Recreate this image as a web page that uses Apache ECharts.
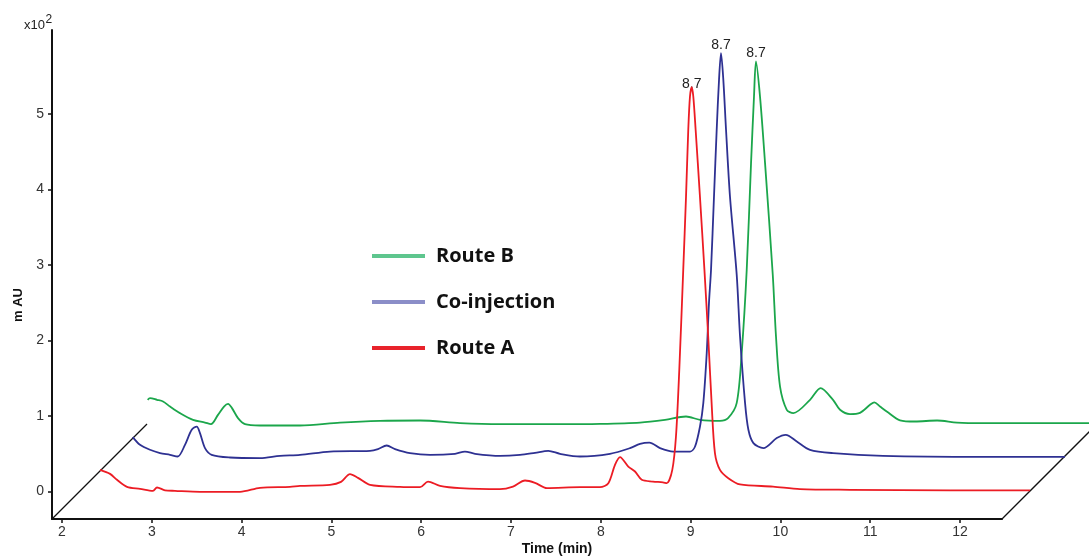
<!DOCTYPE html>
<html><head><meta charset="utf-8">
<script src="https://cdn.jsdelivr.net/npm/echarts@6/dist/echarts.min.js"></script>
<style>html,body{margin:0;padding:0;background:#fff}#c{width:1089px;height:557px}</style>
</head><body><div id="c"></div><script>
// ---- data ----
const xTicks = [2,3,4,5,6,7,8,9,10,11,12];
const yTicks = [0,1,2,3,4,5];
const seriesNames = ['Route A','Co-injection','Route B'];
const legendOrder = ['Route B','Co-injection','Route A'];
const peakLabels = ['8.7','8.7','8.7'];

const routeATime = [2.423,2.535,2.612,2.724,2.869,3.013,3.058,3.147,3.258,3.537,3.982,4.205,4.539,4.650,4.984,5.107,5.207,5.296,5.430,5.764,5.987,6.076,6.209,6.432,6.877,7.022,7.156,7.267,7.401,7.768,7.991,8.084,8.158,8.214,8.306,8.381,8.456,8.581,8.692,8.734,8.796,8.837,8.874,8.918,8.949,8.974,8.993,9.012,9.030,9.056,9.104,9.154,9.196,9.234,9.271,9.327,9.420,9.550,9.918,10.218,10.775,11.889,12.780];
const routeAValue = [0.287,0.234,0.155,0.062,0.036,0.009,0.053,0.016,0.009,-0.004,-0.004,0.049,0.062,0.075,0.089,0.128,0.230,0.181,0.089,0.062,0.058,0.132,0.075,0.045,0.032,0.066,0.146,0.115,0.045,0.058,0.058,0.111,0.354,0.456,0.331,0.265,0.155,0.132,0.122,0.111,0.287,0.728,1.612,2.936,3.907,4.791,5.232,5.356,5.232,4.791,3.907,2.936,2.053,1.171,0.509,0.287,0.177,0.095,0.066,0.032,0.023,0.016,0.016];

const coTime = [2.420,2.501,2.612,2.724,2.835,2.921,3.002,3.077,3.133,3.169,3.225,3.299,3.503,3.837,4.060,4.283,4.617,5.062,5.151,5.248,5.341,5.508,5.731,6.009,6.120,6.232,6.510,6.733,6.900,7.048,7.178,7.401,7.735,7.958,8.069,8.173,8.292,8.440,8.627,8.682,8.737,8.774,8.812,8.837,8.860,8.893,8.923,8.949,8.971,8.997,9.027,9.071,9.146,9.183,9.239,9.276,9.332,9.443,9.592,9.692,9.815,9.962,10.218,10.775,11.889,12.802];
const coValue = [0.277,0.175,0.109,0.065,0.042,0.020,0.175,0.374,0.417,0.330,0.131,0.042,0.007,-0.001,0.029,0.042,0.086,0.095,0.118,0.166,0.118,0.065,0.042,0.056,0.086,0.056,0.029,0.042,0.069,0.095,0.056,0.020,0.056,0.131,0.188,0.205,0.131,0.086,0.086,0.152,0.417,0.727,1.389,2.052,2.493,3.464,4.347,5.009,5.363,5.009,4.347,3.464,2.426,1.609,0.727,0.374,0.197,0.131,0.264,0.307,0.219,0.109,0.065,0.029,0.016,0.016];

const routeBTime = [2.219,2.245,2.323,2.390,2.468,2.579,2.724,2.857,2.924,3.002,3.069,3.114,3.158,3.225,3.303,3.470,3.915,4.361,4.806,5.252,5.697,6.143,6.811,7.256,7.702,7.980,8.214,8.370,8.592,8.682,8.778,8.834,8.890,8.938,8.971,8.993,9.038,9.094,9.180,9.216,9.261,9.336,9.409,9.595,9.712,9.851,9.929,10.040,10.151,10.263,10.311,10.374,10.449,10.597,10.764,11.009,11.232,11.521,12.800];
const routeBValue = [0.327,0.350,0.327,0.305,0.238,0.151,0.062,0.026,0.005,0.128,0.238,0.274,0.217,0.085,0.005,-0.013,-0.013,0.026,0.049,0.053,0.019,0.005,0.005,0.009,0.026,0.062,0.106,0.062,0.049,0.085,0.283,0.946,2.049,3.462,4.344,4.808,4.344,3.462,1.983,1.166,0.503,0.195,0.151,0.327,0.482,0.327,0.195,0.138,0.155,0.261,0.294,0.238,0.172,0.056,0.040,0.053,0.026,0.019,0.019];

// ---- layout / style ----
const W = 1089;
const G = {left:52, top:30, width:950, height:489};
const pxPerMin = 89.8, pxPerUnit = 75.5;
const xMin = 1.8886, yMin = -0.364;
const shifts = [[0,0],[33,33.5],[66,67]];
const lineColors = ['#ec1c24','#2e3192','#1ba64b'];
const legendColors = {'Route A':'#e8232b','Co-injection':'#8b8ec8','Route B':'#5ec68e'};
const labelDist = [-4,1,1];
const depth = 95;

const times = [routeATime, coTime, routeBTime];
const values = [routeAValue, coValue, routeBValue];

const axisStyle = {
  axisLine:{show:true, onZero:false, lineStyle:{color:'#111', width:2}},
  splitLine:{show:false}
};
// grid 0: visible axes only
const grids = [{left:G.left, top:G.top, width:G.width, height:G.height}];
const xAxes = [Object.assign({gridIndex:0, type:'value', min:xMin, max:xMin+G.width/pxPerMin,
  axisTick:{show:true, length:4, customValues:xTicks, lineStyle:{color:'#111', width:1.5}},
  axisLabel:{customValues:xTicks, fontSize:14, color:'#333', margin:6, fontFamily:'Liberation Sans'}}, axisStyle)];
const yAxes = [Object.assign({gridIndex:0, type:'value', min:yMin, max:yMin+G.height/pxPerUnit,
  axisTick:{show:true, length:4, customValues:yTicks, lineStyle:{color:'#111', width:1.5}},
  axisLabel:{customValues:yTicks, fontSize:14, color:'#333', margin:8, fontFamily:'Liberation Sans'}}, axisStyle)];
// data grids, one per trace, offset in depth
shifts.forEach((s,i) => {
  const left = G.left + s[0];
  const width = W - left;
  const height = G.top + G.height - s[1];
  grids.push({left, top:0, width, height});
  xAxes.push({gridIndex:i+1, type:'value', show:false, min:xMin, max:xMin+width/pxPerMin});
  yAxes.push({gridIndex:i+1, type:'value', show:false, min:yMin, max:yMin+height/pxPerUnit});
});

const series = seriesNames.map((name,i) => ({
  name, type:'line', xAxisIndex:i+1, yAxisIndex:i+1,
  data: times[i].map((t,k) => [t, values[i][k]]),
  symbol:'none', smooth:0.3, clip:false, z:10-i,
  lineStyle:{color:lineColors[i], width:1.8},
  itemStyle:{color:lineColors[i]},
  markPoint:{
    symbol:'circle', symbolSize:0, silent:true,
    label:{show:true, position:'top', distance:labelDist[i], formatter:peakLabels[i], fontSize:14, color:'#222', fontFamily:'Liberation Sans'},
    data:[{type:'max'}]
  }
}));

const bl = [G.left, G.top+G.height];
const br = [G.left+G.width, G.top+G.height];

const chart = echarts.init(document.getElementById('c'), null, {renderer:'canvas'});
chart.setOption({
  animation:false,
  backgroundColor:'#fff',
  grid:grids, xAxis:xAxes, yAxis:yAxes, series,
  legend:{
    orient:'vertical', left:367, top:239, itemWidth:53, itemHeight:4, itemGap:22,
    icon:'rect',
    data: legendOrder.map(n => ({name:n, itemStyle:{color:legendColors[n]}})),
    textStyle:{fontSize:20, fontWeight:'bold', fontFamily:'Open Sans', color:'#111', lineHeight:24, padding:[0,0,0,6]}
  },
  graphic:[
    {type:'line', shape:{x1:bl[0], y1:bl[1], x2:bl[0]+depth, y2:bl[1]-depth}, style:{stroke:'#111', lineWidth:1.3}, z:1},
    {type:'line', shape:{x1:br[0], y1:br[1], x2:br[0]+depth+10, y2:br[1]-depth-10}, style:{stroke:'#111', lineWidth:1.3}, z:1},
    {type:'text', style:{x:45, y:32, text:'x10', font:'13px "Liberation Sans"', fill:'#222', textAlign:'right', textVerticalAlign:'bottom'}},
    {type:'text', style:{x:45.5, y:26, text:'2', font:'12px "Liberation Sans"', fill:'#222', textAlign:'left', textVerticalAlign:'bottom'}},
    {type:'text', x:18, y:305, rotation:Math.PI/2, style:{x:0, y:0, text:'m AU', font:'bold 13px "Liberation Sans"', fill:'#111', textAlign:'center', textVerticalAlign:'middle'}},
    {type:'text', style:{x:557, y:549, text:'Time (min)', font:'bold 14px "Liberation Sans"', fill:'#111', textAlign:'center', textVerticalAlign:'middle'}}
  ]
});
</script></body></html>
